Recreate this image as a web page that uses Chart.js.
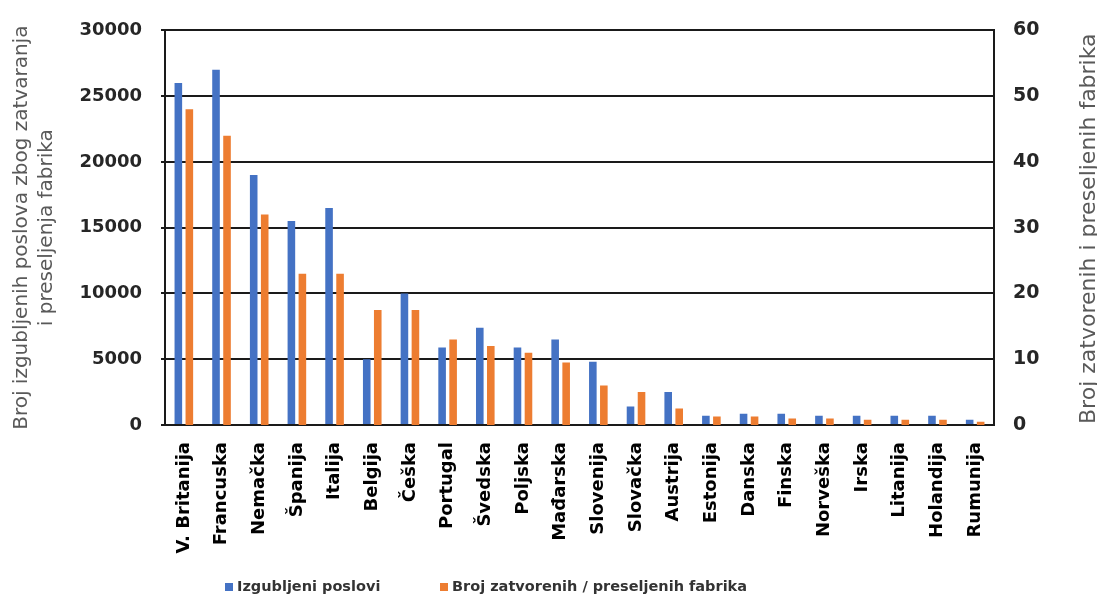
<!DOCTYPE html>
<html>
<head>
<meta charset="utf-8">
<script src="https://cdn.jsdelivr.net/npm/chart.js@4/dist/chart.umd.min.js"></script>
<style>
  html, body { margin: 0; padding: 0; background: #fff; }
  #wrap { width: 1097px; height: 606px; }
</style>
</head>
<body>
<div id="wrap"><canvas id="chart" width="1097" height="606"></canvas></div>
<script>
// Countries along the category axis
const countries = [
  'V. Britanija', 'Francuska', 'Nemačka', 'Španija', 'Italija', 'Belgija',
  'Češka', 'Portugal', 'Švedska', 'Poljska', 'Mađarska', 'Slovenija',
  'Slovačka', 'Austrija', 'Estonija', 'Danska', 'Finska', 'Norveška',
  'Irska', 'Litanija', 'Holandija', 'Rumunija'
];

// Jobs lost through closures / relocations (left axis)
const lostJobs = [
  26000, 27000, 19000, 15500, 16500, 5000,
  10000, 5900, 7400, 5900, 6500, 4800,
  1400, 2500, 700, 850, 850, 700,
  700, 700, 700, 400
];

// Number of closed / relocated factories (right axis)
const closedFactories = [
  48, 44, 32, 23, 23, 17.5,
  17.5, 13, 12, 11, 9.5, 6,
  5, 2.5, 1.3, 1.3, 1, 1,
  0.8, 0.8, 0.8, 0.5
];

// Tick values for both value axes
const jobTicks = [0, 5000, 10000, 15000, 20000, 25000, 30000];
const factoryTicks = [0, 10, 20, 30, 40, 50, 60];

const seriesNames = ['Izgubljeni poslovi', 'Broj zatvorenih / preseljenih fabrika'];
const leftTitle = ['Broj izgubljenih poslova zbog zatvaranja', 'i preseljenja fabrika'];
const rightTitle = 'Broj zatvorenih i preseljenih fabrika';

const BLUE = '#4472C4';
const ORANGE = '#ED7D31';
const LINE = '#1a1a1a';

// Right-hand axis title, reading bottom to top
const rightTitlePlugin = {
  id: 'rightTitle',
  afterDraw(chart) {
    const { ctx, chartArea } = chart;
    ctx.save();
    ctx.translate(1089, (chartArea.top + chartArea.bottom) / 2 + 1);
    ctx.rotate(-Math.PI / 2);
    ctx.font = '22px "DejaVu Sans"';
    ctx.fillStyle = '#595959';
    ctx.textAlign = 'center';
    ctx.textBaseline = 'middle';
    ctx.fillText(rightTitle, 0, 0);
    ctx.restore();
  }
};

// Legend row under the category labels
const bottomLegendPlugin = {
  id: 'bottomLegend',
  afterDraw(chart) {
    const { ctx } = chart;
    const starts = [225, 440];
    ctx.save();
    ctx.font = 'bold 14.5px "DejaVu Sans"';
    ctx.textBaseline = 'middle';
    ctx.textAlign = 'left';
    chart.data.datasets.forEach((ds, i) => {
      ctx.fillStyle = ds.backgroundColor;
      ctx.fillRect(starts[i], 583, 8, 8);
      ctx.fillStyle = '#333333';
      ctx.fillText(ds.label, starts[i] + 12, 587.5);
    });
    ctx.restore();
  }
};

const tickFont = { family: 'DejaVu Sans', weight: 'bold', size: 18 };

new Chart(document.getElementById('chart'), {
  type: 'bar',
  data: {
    labels: countries,
    datasets: [
      {
        label: seriesNames[0],
        data: lostJobs,
        backgroundColor: BLUE,
        yAxisID: 'y',
        categoryPercentage: 0.584,
        barPercentage: 0.69
      },
      {
        label: seriesNames[1],
        data: closedFactories,
        backgroundColor: ORANGE,
        yAxisID: 'y1',
        categoryPercentage: 0.584,
        barPercentage: 0.69
      }
    ]
  },
  options: {
    responsive: false,
    animation: false,
    layout: { padding: { top: 26, bottom: 41, left: 0, right: 0 } },
    plugins: {
      legend: { display: false },
      tooltip: { enabled: false }
    },
    scales: {
      x: {
        grid: { display: false, drawTicks: false },
        border: { display: true, color: LINE, width: 2 },
        ticks: {
          autoSkip: false,
          minRotation: 90,
          maxRotation: 90,
          padding: 17,
          color: '#000',
          font: tickFont
        },
        afterFit(scale) { scale.height = 140; }
      },
      y: {
        position: 'left',
        min: 0,
        max: 30000,
        afterBuildTicks(scale) { scale.ticks = jobTicks.map(v => ({ value: v })); },
        ticks: {
          padding: 19,
          color: '#262626',
          font: tickFont,
          callback: v => String(v)
        },
        grid: { color: LINE, lineWidth: 2, drawTicks: true, tickLength: 4 },
        border: { display: true, color: LINE, width: 2 },
        title: {
          display: true,
          text: leftTitle,
          color: '#595959',
          font: { family: 'DejaVu Sans', size: 20, lineHeight: 1.25 },
          padding: { top: 9.5, bottom: 0 }
        },
        afterFit(scale) { scale.width = 165; }
      },
      y1: {
        position: 'right',
        min: 0,
        max: 60,
        afterBuildTicks(scale) { scale.ticks = factoryTicks.map(v => ({ value: v })); },
        ticks: {
          padding: 19,
          color: '#262626',
          font: { family: 'DejaVu Sans', weight: 'bold', size: 19 },
          callback: v => String(v)
        },
        grid: { display: false, drawTicks: false },
        border: { display: true, color: LINE, width: 2 },
        afterFit(scale) { scale.width = 103; }
      }
    }
  },
  plugins: [rightTitlePlugin, bottomLegendPlugin]
});
</script>
</body>
</html>
